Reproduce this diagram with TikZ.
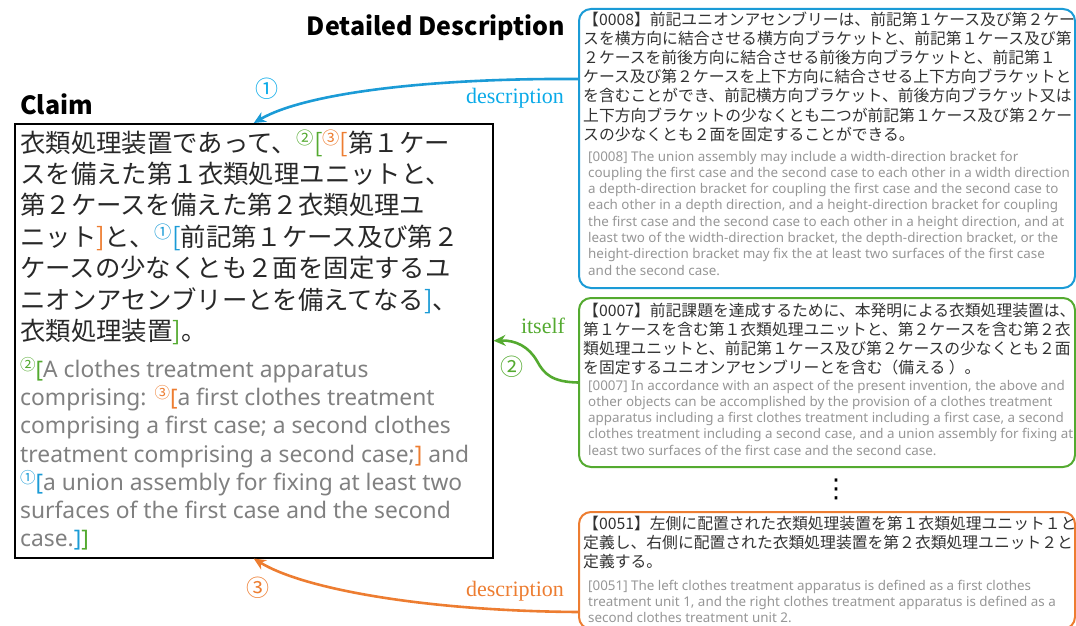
\documentclass[tikz,border=0pt]{standalone}
\usepackage{fontspec}
\usepackage{graphicx}
\setmainfont{Noto Sans CJK JP}
\newfontfamily\serifl{Liberation Serif}
\newfontfamily\ensans{Noto Sans}
\newfontfamily\dejavu{DejaVu Sans}
\usetikzlibrary{arrows.meta}
\definecolor{cblue}{RGB}{27,155,214}
\definecolor{cbluel}{RGB}{10,170,232}
\definecolor{cgreen}{RGB}{84,170,48}
\definecolor{corange}{RGB}{237,125,49}
\definecolor{jptext}{RGB}{40,40,40}
\definecolor{entext}{RGB}{128,128,128}
\definecolor{boxjp}{RGB}{50,50,50}
\definecolor{boxen}{RGB}{150,150,150}
\newcommand\cnum[2]{\raisebox{0.3em}{\scalebox{0.68}{\textcolor{#1}{\rmfamily #2}}}}
\newcommand\ob[1]{\textcolor{#1}{[}}
\newcommand\cb[1]{\textcolor{#1}{]}}
\tikzset{
  claimbox/.style={draw=black, line width=1.6pt, minimum width=478pt, minimum height=434pt, anchor=north west, inner sep=0pt},
  descbox/.style={line width=2pt, rounded corners=12pt, minimum width=496pt, anchor=north west, inner sep=0pt},
  cjp/.style={anchor=base west, align=left, inner sep=0pt, text=jptext, font=\fontsize{25.4}{31.4}\selectfont},
  cen/.style={anchor=base west, align=left, inner sep=0pt, text=entext, font=\ensans\fontsize{22.8}{28.2}\selectfont},
  bjp/.style={anchor=base west, align=left, inner sep=0pt, text=boxjp, font=\fontsize{15.8}{19.2}\selectfont},
  ben/.style={anchor=base west, align=left, inner sep=0pt, text=boxen, font=\ensans\fontsize{13.4}{16.3}\selectfont},
  heading/.style={inner sep=0pt, font=\fontsize{25}{30}\selectfont\bfseries, text=black},
  lbl/.style={inner sep=0pt, font=\serifl\fontsize{22}{24}\selectfont},
  circ/.style={inner sep=0pt, font=\fontsize{23}{24}\selectfont},
  arr/.style={line width=2.6pt, -{Stealth[length=12pt,width=11pt]}},
}
\begin{document}
\begin{tikzpicture}[x=1pt,y=-1pt]
\useasboundingbox (0,0) rectangle (1076,626);
\clip (0,0) rectangle (1076,626);

% headings
\node[heading, anchor=base east] (hdd) at (565,36) {Detailed Description};
\node[heading, anchor=base west] (hcl) at (20,114) {Claim};

% claim box (multi-line nodes are anchored at the baseline of their last line)
\node[claimbox] (claim) at (14,123) {};
\node[cjp] (claimjp) at (20,340.4) {%
衣類処理装置であって、\cnum{cgreen}{②}\ob{cgreen}\cnum{corange}{③}\ob{corange}第１ケー\\
スを備えた第１衣類処理ユニットと、\\
第２ケースを備えた第２衣類処理ユ\\
ニット\cb{corange}と、\cnum{cblue}{①}\ob{cblue}前記第１ケース及び第２\\
ケースの少なくとも２面を固定するユ\\
ニオンアセンブリーとを備えてなる\cb{cblue}、\\
衣類処理装置\cb{cgreen}。};
\node[cen] (claimen) at (20,546.7) {%
\cnum{cgreen}{②}\ob{cgreen}A clothes treatment apparatus\\
comprising: \cnum{corange}{③}\ob{corange}a first clothes treatment\\
comprising a first case; a second clothes\\
treatment comprising a second case;\cb{corange} and\\
\cnum{cblue}{①}\ob{cblue}a union assembly for fixing at least two\\
surfaces of the first case and the second\\
case.\cb{cblue}\cb{cgreen}};

% description boxes
\node[descbox, draw=cblue, minimum height=279pt] (d8) at (578,8) {};
\node[bjp] (d8jp) at (583,140.2) {%
【0008】前記ユニオンアセンブリーは、前記第１ケース及び第２ケー\\
スを横方向に結合させる横方向ブラケットと、前記第１ケース及び第\\
２ケースを前後方向に結合させる前後方向ブラケットと、前記第１\\
ケース及び第２ケースを上下方向に結合させる上下方向ブラケットと\\
を含むことができ、前記横方向ブラケット、前後方向ブラケット又は\\
上下方向ブラケットの少なくとも二つが前記第１ケース及び第２ケー\\
スの少なくとも２面を固定することができる。};
\node[ben] (d8en) at (588,275.1) {%
[0008] The union assembly may include a width-direction bracket for\\
coupling the first case and the second case to each other in a width direction\\
a depth-direction bracket for coupling the first case and the second case to\\
each other in a depth direction, and a height-direction bracket for coupling\\
the first case and the second case to each other in a height direction, and at\\
least two of the width-direction bracket, the depth-direction bracket, or the\\
height-direction bracket may fix the at least two surfaces of the first case\\
and the second case.};

\node[descbox, draw=cgreen, minimum height=169pt] (d7) at (578,297) {};
\node[bjp] (d7jp) at (583,373.6) {%
【0007】前記課題を達成するために、本発明による衣類処理装置は、\\
第１ケースを含む第１衣類処理ユニットと、第２ケースを含む第２衣\\
類処理ユニットと、前記第１ケース及び第２ケースの少なくとも２面\\
を固定するユニオンアセンブリーとを含む（備える ）。};
\node[ben] (d7en) at (588,455.2) {%
[0007] In accordance with an aspect of the present invention, the above and\\
other objects can be accomplished by the provision of a clothes treatment\\
apparatus including a first clothes treatment including a first case, a second\\
clothes treatment including a second case, and a union assembly for fixing at\\
least two surfaces of the first case and the second case.};

\node[inner sep=0pt, font=\dejavu\fontsize{26}{26}\selectfont] (dots) at (836,489) {⋮};

\node[descbox, draw=corange, minimum height=117pt] (d51) at (578,511) {};
\node[bjp] (d51jp) at (583,567.4) {%
【0051】左側に配置された衣類処理装置を第１衣類処理ユニット１と\\
定義し、右側に配置された衣類処理装置を第２衣類処理ユニット２と\\
定義する。};
\node[ben] (d51en) at (588,622.6) {%
[0051] The left clothes treatment apparatus is defined as a first clothes\\
treatment unit 1, and the right clothes treatment apparatus is defined as a\\
second clothes treatment unit 2.};

% connectors
\draw[arr, draw=cblue] ([yshift=69.5pt]d8.west) .. controls (430,78) and (305,93) .. (claim.north);
\draw[arr, draw=cgreen] (d7.west) .. controls (552,382) and (544,374) .. (537,361) .. controls (529,347) and (516,340) .. (claim.east);
\draw[arr, draw=corange] ([yshift=-41.5pt]d51.west) .. controls (430,611) and (305,590) .. (claim.south);

% labels
\node[lbl, text=cbluel] (l1) at (515,98) {description};
\node[lbl, text=cgreen] (l2) at (543,326) {itself};
\node[lbl, text=corange] (l3) at (515,591) {description};
\node[circ, text=cbluel] (n1) at (267,89) {①};
\node[circ, text=cgreen] (n2) at (512,367) {②};
\node[circ, text=corange] (n3) at (258,588) {③};
\end{tikzpicture}
\end{document}
